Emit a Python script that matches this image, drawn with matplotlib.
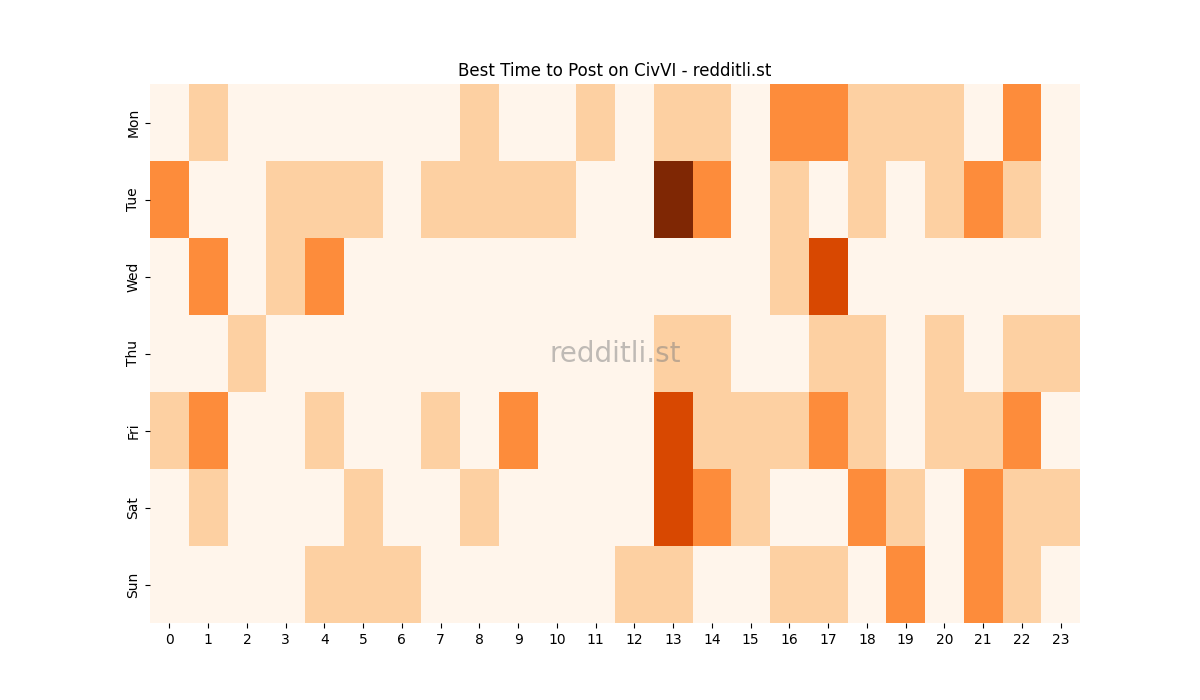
import matplotlib
matplotlib.use("Agg")
import matplotlib.pyplot as plt
import numpy as np

days = ["Mon", "Tue", "Wed", "Thu", "Fri", "Sat", "Sun"]
hours = list(range(24))

# posting score per day (rows) and hour (columns)
mon = [0, 1, 0, 0, 0, 0, 0, 0, 1, 0, 0, 1, 0, 1, 1, 0, 2, 2, 1, 1, 1, 0, 2, 0]
tue = [2, 0, 0, 1, 1, 1, 0, 1, 1, 1, 1, 0, 0, 4, 2, 0, 1, 0, 1, 0, 1, 2, 1, 0]
wed = [0, 2, 0, 1, 2, 0, 0, 0, 0, 0, 0, 0, 0, 0, 0, 0, 1, 3, 0, 0, 0, 0, 0, 0]
thu = [0, 0, 1, 0, 0, 0, 0, 0, 0, 0, 0, 0, 0, 1, 1, 0, 0, 1, 1, 0, 1, 0, 1, 1]
fri = [1, 2, 0, 0, 1, 0, 0, 1, 0, 2, 0, 0, 0, 3, 1, 1, 1, 2, 1, 0, 1, 1, 2, 0]
sat = [0, 1, 0, 0, 0, 1, 0, 0, 1, 0, 0, 0, 0, 3, 2, 1, 0, 0, 2, 1, 0, 2, 1, 1]
sun = [0, 0, 0, 0, 1, 1, 1, 0, 0, 0, 0, 0, 1, 1, 0, 0, 1, 1, 0, 2, 0, 2, 1, 0]

grid = np.array([mon, tue, wed, thu, fri, sat, sun])

fig, ax = plt.subplots(figsize=(12, 7), dpi=100)
fig.subplots_adjust(left=0.125, right=0.9, bottom=0.11, top=0.88)

ax.pcolormesh(grid, cmap="Oranges", vmin=0, vmax=4)
ax.set_xlim(0, 24)
ax.set_ylim(7, 0)
ax.set_xticks(np.arange(24) + 0.5)
ax.set_xticklabels([str(h) for h in hours])
ax.set_yticks(np.arange(7) + 0.5)
ax.set_yticklabels(days, rotation=90, va="center")
for s in ax.spines.values():
    s.set_visible(False)

ax.set_title("Best Time to Post on CivVI - redditli.st")
ax.text(0.5, 0.5, "redditli.st", transform=ax.transAxes, ha="center",
        va="center", fontsize=20, color="gray", alpha=0.5)

fig.savefig("out.png")
